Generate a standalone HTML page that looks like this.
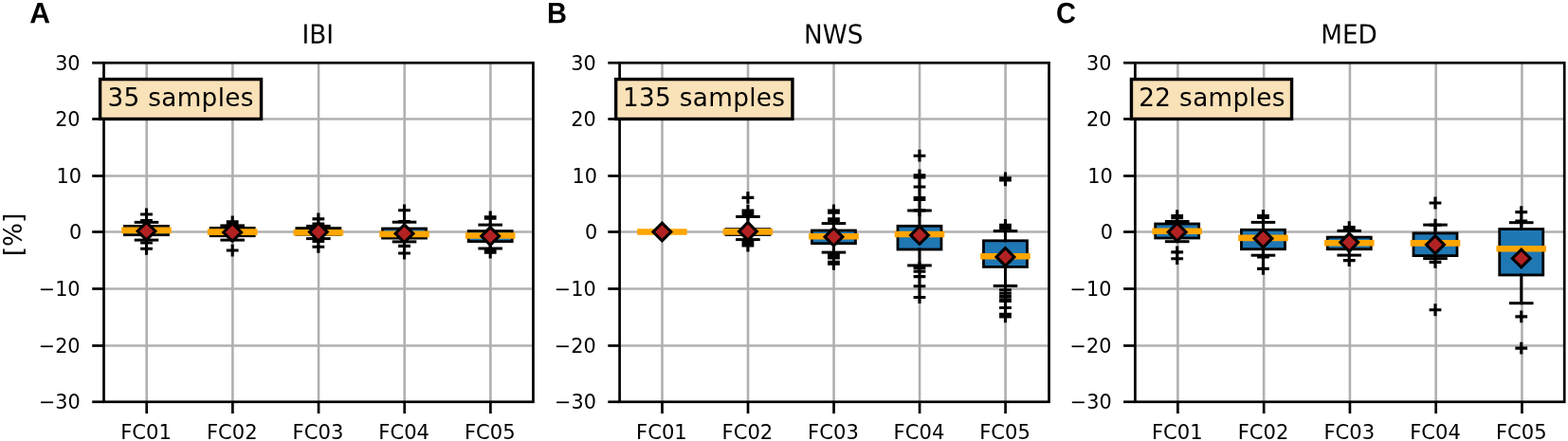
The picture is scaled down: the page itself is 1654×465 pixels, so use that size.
<!DOCTYPE html>
<html lang="en">
<head>
<meta charset="utf-8">
<title>Boxplots IBI / NWS / MED</title>
<style>
html,body{margin:0;padding:0;background:#ffffff;}
body{width:1654px;height:465px;overflow:hidden;}
svg{display:block;}
</style>
</head>
<body>
<svg width="1654" height="465" viewBox="0 0 1654 465">
<rect x="0" y="0" width="1654" height="465" fill="#ffffff"/>
<g class="panel">
<g stroke="#b0b0b0" stroke-width="2.6" fill="none">
<line x1="154.7" y1="66.25" x2="154.7" y2="423.75"/>
<line x1="245.38" y1="66.25" x2="245.38" y2="423.75"/>
<line x1="336.05" y1="66.25" x2="336.05" y2="423.75"/>
<line x1="426.72" y1="66.25" x2="426.72" y2="423.75"/>
<line x1="517.4" y1="66.25" x2="517.4" y2="423.75"/>
<line x1="109.5" y1="125.5" x2="562.45" y2="125.5"/>
<line x1="109.5" y1="185.5" x2="562.45" y2="185.5"/>
<line x1="109.5" y1="244.5" x2="562.45" y2="244.5"/>
<line x1="109.5" y1="304.5" x2="562.45" y2="304.5"/>
<line x1="109.5" y1="364.5" x2="562.45" y2="364.5"/>
</g>
<g class="box">
<rect x="131.5" y="238.4" width="46" height="9.3" fill="#1f77b4" stroke="#000" stroke-width="2.8" stroke-linejoin="miter"/>
<g stroke="#000" stroke-width="3" stroke-linecap="square" fill="none">
<line x1="154.5" y1="234.4" x2="154.5" y2="238.4"/>
<line x1="154.5" y1="247.7" x2="154.5" y2="253.1"/>
<line x1="143.2" y1="234.4" x2="165.8" y2="234.4"/>
<line x1="143.2" y1="253.1" x2="165.8" y2="253.1"/>
</g>
<path d="M148.1 226H160.9M154.5 219.6V232.4M148.1 232.5H160.9M154.5 226.1V238.9M148.1 256H160.9M154.5 249.6V262.4M148.1 262.25H160.9M154.5 255.85V268.65" stroke="#000" stroke-width="3.1" fill="none"/>
<line x1="131.5" y1="242.9" x2="177.5" y2="242.9" stroke="#ffa500" stroke-width="6.6" stroke-linecap="square"/>
<path d="M154.5 234.35L163.9 243.75L154.5 253.15L145.1 243.75Z" fill="#b22222" stroke="#000" stroke-width="3.1" stroke-linejoin="miter"/>
</g>
<g class="box">
<rect x="222.18" y="240.4" width="46" height="8.35" fill="#1f77b4" stroke="#000" stroke-width="2.8" stroke-linejoin="miter"/>
<g stroke="#000" stroke-width="3" stroke-linecap="square" fill="none">
<line x1="245.18" y1="237.9" x2="245.18" y2="240.4"/>
<line x1="245.18" y1="248.75" x2="245.18" y2="253.1"/>
<line x1="233.88" y1="237.9" x2="256.48" y2="237.9"/>
<line x1="233.88" y1="253.1" x2="256.48" y2="253.1"/>
</g>
<path d="M238.78 233.8H251.58M245.18 227.4V240.2M238.78 235.4H251.58M245.18 229V241.8M238.78 264H251.58M245.18 257.6V270.4" stroke="#000" stroke-width="3.1" fill="none"/>
<line x1="222.18" y1="244.6" x2="268.18" y2="244.6" stroke="#ffa500" stroke-width="6.6" stroke-linecap="square"/>
<path d="M245.18 235.6L254.58 245L245.18 254.4L235.77 245Z" fill="#b22222" stroke="#000" stroke-width="3.1" stroke-linejoin="miter"/>
</g>
<g class="box">
<rect x="312.85" y="240.6" width="46" height="6.7" fill="#1f77b4" stroke="#000" stroke-width="2.8" stroke-linejoin="miter"/>
<g stroke="#000" stroke-width="3" stroke-linecap="square" fill="none">
<line x1="335.85" y1="238.4" x2="335.85" y2="240.6"/>
<line x1="335.85" y1="247.3" x2="335.85" y2="251.6"/>
<line x1="324.55" y1="238.4" x2="347.15" y2="238.4"/>
<line x1="324.55" y1="251.6" x2="347.15" y2="251.6"/>
</g>
<path d="M329.45 230.9H342.25M335.85 224.5V237.3M329.45 236H342.25M335.85 229.6V242.4M329.45 254.4H342.25M335.85 248V260.8M329.45 260.25H342.25M335.85 253.85V266.65" stroke="#000" stroke-width="3.1" fill="none"/>
<line x1="312.85" y1="245.3" x2="358.85" y2="245.3" stroke="#ffa500" stroke-width="6.6" stroke-linecap="square"/>
<path d="M335.85 235.2L345.25 244.6L335.85 254L326.45 244.6Z" fill="#b22222" stroke="#000" stroke-width="3.1" stroke-linejoin="miter"/>
</g>
<g class="box">
<rect x="403.52" y="241" width="46" height="10.1" fill="#1f77b4" stroke="#000" stroke-width="2.8" stroke-linejoin="miter"/>
<g stroke="#000" stroke-width="3" stroke-linecap="square" fill="none">
<line x1="426.52" y1="234.2" x2="426.52" y2="241"/>
<line x1="426.52" y1="251.1" x2="426.52" y2="254.9"/>
<line x1="415.22" y1="234.2" x2="437.82" y2="234.2"/>
<line x1="415.22" y1="254.9" x2="437.82" y2="254.9"/>
</g>
<path d="M420.12 221.8H432.92M426.52 215.4V228.2M420.12 233.6H432.92M426.52 227.2V240M420.12 259.4H432.92M426.52 253V265.8M420.12 267H432.92M426.52 260.6V273.4" stroke="#000" stroke-width="3.1" fill="none"/>
<line x1="403.52" y1="246.9" x2="449.52" y2="246.9" stroke="#ffa500" stroke-width="6.6" stroke-linecap="square"/>
<path d="M426.52 236.85L435.93 246.25L426.52 255.65L417.12 246.25Z" fill="#b22222" stroke="#000" stroke-width="3.1" stroke-linejoin="miter"/>
</g>
<g class="box">
<rect x="494.2" y="243.6" width="46" height="11" fill="#1f77b4" stroke="#000" stroke-width="2.8" stroke-linejoin="miter"/>
<g stroke="#000" stroke-width="3" stroke-linecap="square" fill="none">
<line x1="517.2" y1="237.1" x2="517.2" y2="243.6"/>
<line x1="517.2" y1="254.6" x2="517.2" y2="262"/>
<line x1="505.9" y1="237.1" x2="528.5" y2="237.1"/>
<line x1="505.9" y1="262" x2="528.5" y2="262"/>
</g>
<path d="M510.8 228.8H523.6M517.2 222.4V235.2M510.8 230.3H523.6M517.2 223.9V236.7M510.8 264.6H523.6M517.2 258.2V271M510.8 266.2H523.6M517.2 259.8V272.6" stroke="#000" stroke-width="3.1" fill="none"/>
<line x1="494.2" y1="248.5" x2="540.2" y2="248.5" stroke="#ffa500" stroke-width="6.6" stroke-linecap="square"/>
<path d="M517.2 239.6L526.6 249L517.2 258.4L507.8 249Z" fill="#b22222" stroke="#000" stroke-width="3.1" stroke-linejoin="miter"/>
</g>
<g stroke="#000" stroke-width="2.7" fill="none">
<line x1="154.7" y1="423.75" x2="154.7" y2="436.05"/>
<line x1="245.38" y1="423.75" x2="245.38" y2="436.05"/>
<line x1="336.05" y1="423.75" x2="336.05" y2="436.05"/>
<line x1="426.72" y1="423.75" x2="426.72" y2="436.05"/>
<line x1="517.4" y1="423.75" x2="517.4" y2="436.05"/>
<line x1="97.2" y1="66.25" x2="109.5" y2="66.25"/>
<line x1="97.2" y1="125.5" x2="109.5" y2="125.5"/>
<line x1="97.2" y1="185.5" x2="109.5" y2="185.5"/>
<line x1="97.2" y1="244.5" x2="109.5" y2="244.5"/>
<line x1="97.2" y1="304.5" x2="109.5" y2="304.5"/>
<line x1="97.2" y1="364.5" x2="109.5" y2="364.5"/>
<line x1="97.2" y1="423.75" x2="109.5" y2="423.75"/>
</g>
<rect x="109.5" y="66.25" width="452.95" height="357.5" fill="none" stroke="#000" stroke-width="2.7" stroke-linejoin="miter"/>
<g font-family="'DejaVu Sans', 'Liberation Sans', sans-serif" font-size="20.8" fill="#000">
<text x="154.1" y="463" text-anchor="middle" font-size="21.1">FC01</text>
<text x="244.78" y="463" text-anchor="middle" font-size="21.1">FC02</text>
<text x="335.45" y="463" text-anchor="middle" font-size="21.1">FC03</text>
<text x="426.12" y="463" text-anchor="middle" font-size="21.1">FC04</text>
<text x="516.8" y="463" text-anchor="middle" font-size="21.1">FC05</text>
<text x="84.6" y="74" text-anchor="end">30</text>
<text x="84.6" y="133" text-anchor="end">20</text>
<text x="85.9" y="193" text-anchor="end">10</text>
<text x="86.2" y="252" text-anchor="end">0</text>
<text x="84.6" y="312" text-anchor="end">−10</text>
<text x="84.6" y="372" text-anchor="end">−20</text>
<text x="84.8" y="431" text-anchor="end">−30</text>
</g>
<text transform="translate(335.18 45.85) rotate(0.05) scale(1 1.055)" text-anchor="middle" font-family="'DejaVu Sans', 'Liberation Sans', sans-serif" font-size="26.3" fill="#000">IBI</text>
<text transform="translate(23 247.5) rotate(-90) scale(1 1.03)" text-anchor="middle" font-family="'DejaVu Sans', 'Liberation Sans', sans-serif" font-size="26.3" fill="#000">[%]</text>
<g class="note">
<rect class="nb" x="105.55" y="83.55" width="170" height="41.9" fill="#f9e1b8" stroke="#000" stroke-width="3.4"/>
<text x="113.4" y="112" font-family="'DejaVu Sans', 'Liberation Sans', sans-serif" font-size="26.3" letter-spacing="0.33" fill="#000">35 samples</text>
</g>
<text transform="translate(31.2 24.25) rotate(0.05) scale(1 1.02)" font-family="'Liberation Sans', Arial, Helvetica, sans-serif" font-weight="bold" font-size="30.2" fill="#000">A</text>
</g>
<g class="panel">
<g stroke="#b0b0b0" stroke-width="2.6" fill="none">
<line x1="698.5" y1="66.25" x2="698.5" y2="423.75"/>
<line x1="789.02" y1="66.25" x2="789.02" y2="423.75"/>
<line x1="879.55" y1="66.25" x2="879.55" y2="423.75"/>
<line x1="970.07" y1="66.25" x2="970.07" y2="423.75"/>
<line x1="1060.6" y1="66.25" x2="1060.6" y2="423.75"/>
<line x1="653.6" y1="125.5" x2="1106.55" y2="125.5"/>
<line x1="653.6" y1="185.5" x2="1106.55" y2="185.5"/>
<line x1="653.6" y1="244.5" x2="1106.55" y2="244.5"/>
<line x1="653.6" y1="304.5" x2="1106.55" y2="304.5"/>
<line x1="653.6" y1="364.5" x2="1106.55" y2="364.5"/>
</g>
<g class="box">
<rect x="675.4" y="244.5" width="46" height="0.01" fill="#1f77b4" stroke="#000" stroke-width="2.8" stroke-linejoin="miter"/>
<line x1="675.4" y1="244.5" x2="721.4" y2="244.5" stroke="#ffa500" stroke-width="6.6" stroke-linecap="square"/>
<path d="M698.4 235.1L707.8 244.5L698.4 253.9L689 244.5Z" fill="#b22222" stroke="#000" stroke-width="3.1" stroke-linejoin="miter"/>
</g>
<g class="box">
<rect x="765.92" y="241.6" width="46" height="5.9" fill="#1f77b4" stroke="#000" stroke-width="2.8" stroke-linejoin="miter"/>
<g stroke="#000" stroke-width="3" stroke-linecap="square" fill="none">
<line x1="788.92" y1="228.5" x2="788.92" y2="241.6"/>
<line x1="788.92" y1="247.5" x2="788.92" y2="252.6"/>
<line x1="777.62" y1="228.5" x2="800.22" y2="228.5"/>
<line x1="777.62" y1="252.6" x2="800.22" y2="252.6"/>
</g>
<path d="M782.52 208.4H795.32M788.92 202V214.8M782.52 222.1H795.32M788.92 215.7V228.5M782.52 224H795.32M788.92 217.6V230.4M782.52 225.8H795.32M788.92 219.4V232.2M782.52 255.5H795.32M788.92 249.1V261.9M782.52 257.3H795.32M788.92 250.9V263.7M782.52 259H795.32M788.92 252.6V265.4" stroke="#000" stroke-width="3.1" fill="none"/>
<line x1="765.92" y1="244.4" x2="811.92" y2="244.4" stroke="#ffa500" stroke-width="6.6" stroke-linecap="square"/>
<path d="M788.92 234.5L798.33 243.9L788.92 253.3L779.52 243.9Z" fill="#b22222" stroke="#000" stroke-width="3.1" stroke-linejoin="miter"/>
</g>
<g class="box">
<rect x="856.45" y="243" width="46" height="13.7" fill="#1f77b4" stroke="#000" stroke-width="2.8" stroke-linejoin="miter"/>
<g stroke="#000" stroke-width="3" stroke-linecap="square" fill="none">
<line x1="879.45" y1="235.6" x2="879.45" y2="243"/>
<line x1="879.45" y1="256.7" x2="879.45" y2="266.1"/>
<line x1="868.15" y1="235.6" x2="890.75" y2="235.6"/>
<line x1="868.15" y1="266.1" x2="890.75" y2="266.1"/>
</g>
<path d="M873.05 222H885.85M879.45 215.6V228.4M873.05 224.2H885.85M879.45 217.8V230.6M873.05 230.7H885.85M879.45 224.3V237.1M873.05 232.7H885.85M879.45 226.3V239.1M873.05 268.5H885.85M879.45 262.1V274.9M873.05 270.3H885.85M879.45 263.9V276.7M873.05 272H885.85M879.45 265.6V278.4M873.05 276.4H885.85M879.45 270V282.8M873.05 278.3H885.85M879.45 271.9V284.7" stroke="#000" stroke-width="3.1" fill="none"/>
<line x1="856.45" y1="249.2" x2="902.45" y2="249.2" stroke="#ffa500" stroke-width="6.6" stroke-linecap="square"/>
<path d="M879.45 240.35L888.85 249.75L879.45 259.15L870.05 249.75Z" fill="#b22222" stroke="#000" stroke-width="3.1" stroke-linejoin="miter"/>
</g>
<g class="box">
<rect x="946.97" y="238.3" width="46" height="24.7" fill="#1f77b4" stroke="#000" stroke-width="2.8" stroke-linejoin="miter"/>
<g stroke="#000" stroke-width="3" stroke-linecap="square" fill="none">
<line x1="969.97" y1="222" x2="969.97" y2="238.3"/>
<line x1="969.97" y1="263" x2="969.97" y2="279.9"/>
<line x1="958.67" y1="222" x2="981.27" y2="222"/>
<line x1="958.67" y1="279.9" x2="981.27" y2="279.9"/>
</g>
<path d="M963.57 164.2H976.37M969.97 157.8V170.6M963.57 184.9H976.37M969.97 178.5V191.3M963.57 187H976.37M969.97 180.6V193.4M963.57 197H976.37M969.97 190.6V203.4M963.57 208.5H976.37M969.97 202.1V214.9M963.57 210.4H976.37M969.97 204V216.8M963.57 221.9H976.37M969.97 215.5V228.3M963.57 282.6H976.37M969.97 276.2V289M963.57 286.3H976.37M969.97 279.9V292.7M963.57 291.6H976.37M969.97 285.2V298M963.57 301.7H976.37M969.97 295.3V308.1M963.57 313.5H976.37M969.97 307.1V319.9" stroke="#000" stroke-width="3.1" fill="none"/>
<line x1="946.97" y1="247" x2="992.97" y2="247" stroke="#ffa500" stroke-width="6.6" stroke-linecap="square"/>
<path d="M969.97 238.6L979.38 248L969.97 257.4L960.57 248Z" fill="#b22222" stroke="#000" stroke-width="3.1" stroke-linejoin="miter"/>
</g>
<g class="box">
<rect x="1037.5" y="253.8" width="46" height="27.6" fill="#1f77b4" stroke="#000" stroke-width="2.8" stroke-linejoin="miter"/>
<g stroke="#000" stroke-width="3" stroke-linecap="square" fill="none">
<line x1="1060.5" y1="243.6" x2="1060.5" y2="253.8"/>
<line x1="1060.5" y1="281.4" x2="1060.5" y2="301.4"/>
<line x1="1049.2" y1="243.6" x2="1071.8" y2="243.6"/>
<line x1="1049.2" y1="301.4" x2="1071.8" y2="301.4"/>
</g>
<path d="M1054.1 187.8H1066.9M1060.5 181.4V194.2M1054.1 189.9H1066.9M1060.5 183.5V196.3M1054.1 237.4H1066.9M1060.5 231V243.8M1054.1 239.2H1066.9M1060.5 232.8V245.6M1054.1 240.8H1066.9M1060.5 234.4V247.2M1054.1 305.8H1066.9M1060.5 299.4V312.2M1054.1 309.2H1066.9M1060.5 302.8V315.6M1054.1 312.5H1066.9M1060.5 306.1V318.9M1054.1 315.7H1066.9M1060.5 309.3V322.1M1054.1 317.4H1066.9M1060.5 311V323.8M1054.1 324.5H1066.9M1060.5 318.1V330.9M1054.1 331.4H1066.9M1060.5 325V337.8M1054.1 333.9H1066.9M1060.5 327.5V340.3" stroke="#000" stroke-width="3.1" fill="none"/>
<line x1="1037.5" y1="270.3" x2="1083.5" y2="270.3" stroke="#ffa500" stroke-width="6.6" stroke-linecap="square"/>
<path d="M1060.5 261.5L1069.9 270.9L1060.5 280.3L1051.1 270.9Z" fill="#b22222" stroke="#000" stroke-width="3.1" stroke-linejoin="miter"/>
</g>
<g stroke="#000" stroke-width="2.7" fill="none">
<line x1="698.5" y1="423.75" x2="698.5" y2="436.05"/>
<line x1="789.02" y1="423.75" x2="789.02" y2="436.05"/>
<line x1="879.55" y1="423.75" x2="879.55" y2="436.05"/>
<line x1="970.07" y1="423.75" x2="970.07" y2="436.05"/>
<line x1="1060.6" y1="423.75" x2="1060.6" y2="436.05"/>
<line x1="641.3" y1="66.25" x2="653.6" y2="66.25"/>
<line x1="641.3" y1="125.5" x2="653.6" y2="125.5"/>
<line x1="641.3" y1="185.5" x2="653.6" y2="185.5"/>
<line x1="641.3" y1="244.5" x2="653.6" y2="244.5"/>
<line x1="641.3" y1="304.5" x2="653.6" y2="304.5"/>
<line x1="641.3" y1="364.5" x2="653.6" y2="364.5"/>
<line x1="641.3" y1="423.75" x2="653.6" y2="423.75"/>
</g>
<rect x="653.6" y="66.25" width="452.95" height="357.5" fill="none" stroke="#000" stroke-width="2.7" stroke-linejoin="miter"/>
<g font-family="'DejaVu Sans', 'Liberation Sans', sans-serif" font-size="20.8" fill="#000">
<text x="697.9" y="463" text-anchor="middle" font-size="21.1">FC01</text>
<text x="788.42" y="463" text-anchor="middle" font-size="21.1">FC02</text>
<text x="878.95" y="463" text-anchor="middle" font-size="21.1">FC03</text>
<text x="969.47" y="463" text-anchor="middle" font-size="21.1">FC04</text>
<text x="1060" y="463" text-anchor="middle" font-size="21.1">FC05</text>
<text x="628.7" y="74" text-anchor="end">30</text>
<text x="628.7" y="133" text-anchor="end">20</text>
<text x="630" y="193" text-anchor="end">10</text>
<text x="630.3" y="252" text-anchor="end">0</text>
<text x="628.7" y="312" text-anchor="end">−10</text>
<text x="628.7" y="372" text-anchor="end">−20</text>
<text x="628.9" y="431" text-anchor="end">−30</text>
</g>
<text transform="translate(879.28 45.85) rotate(0.05) scale(1 1.055)" text-anchor="middle" font-family="'DejaVu Sans', 'Liberation Sans', sans-serif" font-size="26.3" fill="#000">NWS</text>
<g class="note">
<rect class="nb" x="649.65" y="83.55" width="186.3" height="41.9" fill="#f9e1b8" stroke="#000" stroke-width="3.4"/>
<text x="656.9" y="112" font-family="'DejaVu Sans', 'Liberation Sans', sans-serif" font-size="26.3" letter-spacing="0.33" fill="#000">135 samples</text>
</g>
<text transform="translate(576.9 24.25) rotate(0.05) scale(0.96 1.02)" font-family="'Liberation Sans', Arial, Helvetica, sans-serif" font-weight="bold" font-size="30.2" fill="#000">B</text>
</g>
<g class="panel">
<g stroke="#b0b0b0" stroke-width="2.6" fill="none">
<line x1="1242.4" y1="66.25" x2="1242.4" y2="423.75"/>
<line x1="1333.16" y1="66.25" x2="1333.16" y2="423.75"/>
<line x1="1423.93" y1="66.25" x2="1423.93" y2="423.75"/>
<line x1="1514.69" y1="66.25" x2="1514.69" y2="423.75"/>
<line x1="1605.45" y1="66.25" x2="1605.45" y2="423.75"/>
<line x1="1197.4" y1="125.5" x2="1650.2" y2="125.5"/>
<line x1="1197.4" y1="185.5" x2="1650.2" y2="185.5"/>
<line x1="1197.4" y1="244.5" x2="1650.2" y2="244.5"/>
<line x1="1197.4" y1="304.5" x2="1650.2" y2="304.5"/>
<line x1="1197.4" y1="364.5" x2="1650.2" y2="364.5"/>
</g>
<g class="box">
<rect x="1218.7" y="236" width="46" height="15" fill="#1f77b4" stroke="#000" stroke-width="2.8" stroke-linejoin="miter"/>
<g stroke="#000" stroke-width="3" stroke-linecap="square" fill="none">
<line x1="1241.7" y1="233.5" x2="1241.7" y2="236"/>
<line x1="1241.7" y1="251" x2="1241.7" y2="254.7"/>
<line x1="1230.4" y1="233.5" x2="1253" y2="233.5"/>
<line x1="1230.4" y1="254.7" x2="1253" y2="254.7"/>
</g>
<path d="M1235.3 227.6H1248.1M1241.7 221.2V234M1235.3 229.6H1248.1M1241.7 223.2V236M1235.3 265.9H1248.1M1241.7 259.5V272.3M1235.3 272.7H1248.1M1241.7 266.3V279.1" stroke="#000" stroke-width="3.1" fill="none"/>
<line x1="1218.7" y1="243.7" x2="1264.7" y2="243.7" stroke="#ffa500" stroke-width="6.6" stroke-linecap="square"/>
<path d="M1241.7 235.3L1251.1 244.7L1241.7 254.1L1232.3 244.7Z" fill="#b22222" stroke="#000" stroke-width="3.1" stroke-linejoin="miter"/>
</g>
<g class="box">
<rect x="1309.46" y="242.3" width="46" height="20.4" fill="#1f77b4" stroke="#000" stroke-width="2.8" stroke-linejoin="miter"/>
<g stroke="#000" stroke-width="3" stroke-linecap="square" fill="none">
<line x1="1332.46" y1="234.4" x2="1332.46" y2="242.3"/>
<line x1="1332.46" y1="262.7" x2="1332.46" y2="269.2"/>
<line x1="1321.16" y1="234.4" x2="1343.76" y2="234.4"/>
<line x1="1321.16" y1="269.2" x2="1343.76" y2="269.2"/>
</g>
<path d="M1326.06 227.5H1338.86M1332.46 221.1V233.9M1326.06 229.4H1338.86M1332.46 223V235.8M1326.06 270.9H1338.86M1332.46 264.5V277.3M1326.06 283.4H1338.86M1332.46 277V289.8" stroke="#000" stroke-width="3.1" fill="none"/>
<line x1="1309.46" y1="250.9" x2="1355.46" y2="250.9" stroke="#ffa500" stroke-width="6.6" stroke-linecap="square"/>
<path d="M1332.46 242L1341.87 251.4L1332.46 260.8L1323.06 251.4Z" fill="#b22222" stroke="#000" stroke-width="3.1" stroke-linejoin="miter"/>
</g>
<g class="box">
<rect x="1400.23" y="250.1" width="46" height="12.6" fill="#1f77b4" stroke="#000" stroke-width="2.8" stroke-linejoin="miter"/>
<g stroke="#000" stroke-width="3" stroke-linecap="square" fill="none">
<line x1="1423.23" y1="243.4" x2="1423.23" y2="250.1"/>
<line x1="1423.23" y1="262.7" x2="1423.23" y2="269.1"/>
<line x1="1411.93" y1="243.4" x2="1434.53" y2="243.4"/>
<line x1="1411.93" y1="269.1" x2="1434.53" y2="269.1"/>
</g>
<path d="M1416.83 239.6H1429.63M1423.23 233.2V246M1416.83 241.2H1429.63M1423.23 234.8V247.6M1416.83 274.6H1429.63M1423.23 268.2V281" stroke="#000" stroke-width="3.1" fill="none"/>
<line x1="1400.23" y1="256.3" x2="1446.23" y2="256.3" stroke="#ffa500" stroke-width="6.6" stroke-linecap="square"/>
<path d="M1423.23 246.2L1432.63 255.6L1423.23 265L1413.82 255.6Z" fill="#b22222" stroke="#000" stroke-width="3.1" stroke-linejoin="miter"/>
</g>
<g class="box">
<rect x="1490.99" y="245.9" width="46" height="23.7" fill="#1f77b4" stroke="#000" stroke-width="2.8" stroke-linejoin="miter"/>
<g stroke="#000" stroke-width="3" stroke-linecap="square" fill="none">
<line x1="1513.99" y1="237.1" x2="1513.99" y2="245.9"/>
<line x1="1513.99" y1="269.6" x2="1513.99" y2="272.6"/>
<line x1="1502.69" y1="237.1" x2="1525.29" y2="237.1"/>
<line x1="1502.69" y1="272.6" x2="1525.29" y2="272.6"/>
</g>
<path d="M1507.59 214H1520.39M1513.99 207.6V220.4M1507.59 237.2H1520.39M1513.99 230.8V243.6M1507.59 276.4H1520.39M1513.99 270V282.8M1507.59 326.75H1520.39M1513.99 320.35V333.15" stroke="#000" stroke-width="3.1" fill="none"/>
<line x1="1490.99" y1="256.4" x2="1536.99" y2="256.4" stroke="#ffa500" stroke-width="6.6" stroke-linecap="square"/>
<path d="M1513.99 248.6L1523.39 258L1513.99 267.4L1504.58 258Z" fill="#b22222" stroke="#000" stroke-width="3.1" stroke-linejoin="miter"/>
</g>
<g class="box">
<rect x="1581.75" y="241.5" width="46" height="48.5" fill="#1f77b4" stroke="#000" stroke-width="2.8" stroke-linejoin="miter"/>
<g stroke="#000" stroke-width="3" stroke-linecap="square" fill="none">
<line x1="1604.75" y1="234.7" x2="1604.75" y2="241.5"/>
<line x1="1604.75" y1="290" x2="1604.75" y2="319.7"/>
<line x1="1593.45" y1="234.7" x2="1616.05" y2="234.7"/>
<line x1="1593.45" y1="319.7" x2="1616.05" y2="319.7"/>
</g>
<path d="M1598.35 223.6H1611.15M1604.75 217.2V230M1598.35 233H1611.15M1604.75 226.6V239.4M1598.35 333.9H1611.15M1604.75 327.5V340.3M1598.35 367.1H1611.15M1604.75 360.7V373.5" stroke="#000" stroke-width="3.1" fill="none"/>
<line x1="1581.75" y1="262.3" x2="1627.75" y2="262.3" stroke="#ffa500" stroke-width="6.6" stroke-linecap="square"/>
<path d="M1604.75 263.1L1614.15 272.5L1604.75 281.9L1595.35 272.5Z" fill="#b22222" stroke="#000" stroke-width="3.1" stroke-linejoin="miter"/>
</g>
<g stroke="#000" stroke-width="2.7" fill="none">
<line x1="1242.4" y1="423.75" x2="1242.4" y2="436.05"/>
<line x1="1333.16" y1="423.75" x2="1333.16" y2="436.05"/>
<line x1="1423.93" y1="423.75" x2="1423.93" y2="436.05"/>
<line x1="1514.69" y1="423.75" x2="1514.69" y2="436.05"/>
<line x1="1605.45" y1="423.75" x2="1605.45" y2="436.05"/>
<line x1="1185.1" y1="66.25" x2="1197.4" y2="66.25"/>
<line x1="1185.1" y1="125.5" x2="1197.4" y2="125.5"/>
<line x1="1185.1" y1="185.5" x2="1197.4" y2="185.5"/>
<line x1="1185.1" y1="244.5" x2="1197.4" y2="244.5"/>
<line x1="1185.1" y1="304.5" x2="1197.4" y2="304.5"/>
<line x1="1185.1" y1="364.5" x2="1197.4" y2="364.5"/>
<line x1="1185.1" y1="423.75" x2="1197.4" y2="423.75"/>
</g>
<rect x="1197.4" y="66.25" width="452.8" height="357.5" fill="none" stroke="#000" stroke-width="2.7" stroke-linejoin="miter"/>
<g font-family="'DejaVu Sans', 'Liberation Sans', sans-serif" font-size="20.8" fill="#000">
<text x="1241.8" y="463" text-anchor="middle" font-size="21.1">FC01</text>
<text x="1332.56" y="463" text-anchor="middle" font-size="21.1">FC02</text>
<text x="1423.33" y="463" text-anchor="middle" font-size="21.1">FC03</text>
<text x="1514.09" y="463" text-anchor="middle" font-size="21.1">FC04</text>
<text x="1604.85" y="463" text-anchor="middle" font-size="21.1">FC05</text>
<text x="1172.5" y="74" text-anchor="end">30</text>
<text x="1172.5" y="133" text-anchor="end">20</text>
<text x="1173.8" y="193" text-anchor="end">10</text>
<text x="1174.1" y="252" text-anchor="end">0</text>
<text x="1172.5" y="312" text-anchor="end">−10</text>
<text x="1172.5" y="372" text-anchor="end">−20</text>
<text x="1172.7" y="431" text-anchor="end">−30</text>
</g>
<text transform="translate(1423 45.85) rotate(0.05) scale(1 1.055)" text-anchor="middle" font-family="'DejaVu Sans', 'Liberation Sans', sans-serif" font-size="26.3" fill="#000">MED</text>
<g class="note">
<rect class="nb" x="1193.45" y="83.55" width="169.1" height="41.9" fill="#f9e1b8" stroke="#000" stroke-width="3.4"/>
<text x="1201.3" y="112" font-family="'DejaVu Sans', 'Liberation Sans', sans-serif" font-size="26.3" letter-spacing="0.33" fill="#000">22 samples</text>
</g>
<text transform="translate(1113.95 24.25) rotate(0.05) scale(0.96 1.02)" font-family="'Liberation Sans', Arial, Helvetica, sans-serif" font-weight="bold" font-size="30.2" fill="#000">C</text>
</g>
</svg>
</body>
</html>
